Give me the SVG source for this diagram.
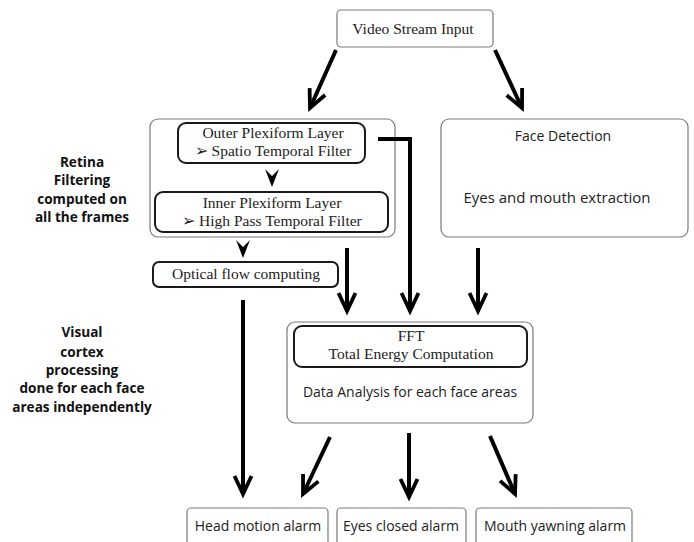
<svg xmlns="http://www.w3.org/2000/svg" width="694" height="542" viewBox="0 0 694 542">
<defs>
<style>
.thin{fill:#fff;stroke:#7a7a7a;stroke-width:1.2}
.thick{fill:#fff;stroke:#1a1a1a;stroke-width:2}
.serif{font-family:"Liberation Serif","Times New Roman",serif;font-size:15.5px;fill:#222;text-anchor:middle}
.sans{font-family:"Open Sans","Noto Sans",sans-serif;font-size:14px;fill:#222;text-anchor:middle}
.lab{font-family:"Open Sans","Noto Sans",sans-serif;font-size:13.6px;font-weight:bold;fill:#111;text-anchor:middle}
.ln{fill:none;stroke:#000;stroke-width:4}
.chev{fill:#000}
</style>
<marker id="ah" markerUnits="userSpaceOnUse" viewBox="-24 -13 28 26" refX="0" refY="0" markerWidth="28" markerHeight="26" orient="auto" overflow="visible">
<path d="M-18,-8.5 L0,0 L-18,8.5" fill="none" stroke="#000" stroke-width="3.8" stroke-linejoin="miter" stroke-miterlimit="10"/>
</marker>
</defs>
<rect width="694" height="542" fill="#fff"/>

<g id="labels">
<text class="lab" x="82" y="167">Retina</text>
<text class="lab" x="82" y="185">Filtering</text>
<text class="lab" x="82" y="204">computed on</text>
<text class="lab" x="82" y="222">all the frames</text>
<text class="lab" x="82" y="337">Visual</text>
<text class="lab" x="82" y="357">cortex</text>
<text class="lab" x="82" y="375">processing</text>
<text class="lab" x="82" y="393">done for each face</text>
<text class="lab" x="82" y="412">areas independently</text>
</g>

<g id="video-input">
<rect class="thin" x="337" y="10" width="156" height="37" rx="4"/>
<text class="serif" x="413" y="34">Video Stream Input</text>
</g>

<g id="retina-group">
<rect class="thin" x="150" y="119" width="245" height="118" rx="8"/>
</g>
<g id="outer-plexiform">
<rect class="thick" x="178" y="123" width="187" height="40" rx="8"/>
<text class="serif" x="273" y="138">Outer Plexiform Layer</text>
<text class="serif" x="273" y="156">➢ Spatio Temporal Filter</text>
</g>
<g id="inner-plexiform">
<rect class="thick" x="155" y="192" width="233" height="40" rx="8"/>
<text class="serif" x="272" y="208">Inner Plexiform Layer</text>
<text class="serif" x="272" y="226">➢ High Pass Temporal Filter</text>
</g>
<g id="optical-flow">
<rect class="thick" x="153" y="262" width="185" height="25" rx="6"/>
<text class="serif" x="246" y="279">Optical flow computing</text>
</g>

<g id="face-detection">
<rect class="thin" x="441" y="119" width="247" height="118" rx="8"/>
<text class="sans" x="563" y="141">Face Detection</text>
<text class="sans" x="557" y="203" style="font-size:15px">Eyes and mouth extraction</text>
</g>

<g id="data-analysis">
<rect class="thin" x="287" y="322" width="246" height="101" rx="8"/>
<text class="sans" x="410" y="397">Data  Analysis for each face areas</text>
</g>
<g id="fft">
<rect class="thick" x="294" y="326" width="233" height="41" rx="8"/>
<text class="serif" x="411" y="341">FFT</text>
<text class="serif" x="411" y="359">Total Energy Computation</text>
</g>

<g id="head-motion">
<rect class="thin" x="187" y="508" width="141" height="50" rx="4"/>
<text class="sans" x="258" y="531">Head motion alarm</text>
</g>
<g id="eyes-closed">
<rect class="thin" x="337" y="508" width="129" height="50" rx="4"/>
<text class="sans" x="401" y="531">Eyes closed alarm</text>
</g>
<g id="mouth-yawning">
<rect class="thin" x="476" y="508" width="156" height="50" rx="4"/>
<text class="sans" x="555" y="531">Mouth yawning alarm</text>
</g>

<g id="connectors">
<line class="ln" x1="336" y1="50" x2="310" y2="108" marker-end="url(#ah)"/>
<line class="ln" x1="495" y1="50" x2="522" y2="108" marker-end="url(#ah)"/>
<polygon class="chev" points="265,169 272,176 279,169 272,187"/>
<polygon class="chev" points="236,240 243,247 250,240 243,258"/>
<polyline class="ln" points="378,139 410,139 410,311" marker-end="url(#ah)" stroke-linejoin="miter"/>
<line class="ln" x1="347" y1="248" x2="347" y2="311" marker-end="url(#ah)"/>
<line class="ln" x1="478" y1="248" x2="478" y2="311" marker-end="url(#ah)"/>
<line class="ln" x1="243" y1="300" x2="243" y2="494" marker-end="url(#ah)"/>
<line class="ln" x1="330" y1="437" x2="303" y2="494" marker-end="url(#ah)"/>
<line class="ln" x1="409" y1="433" x2="409" y2="497" marker-end="url(#ah)"/>
<line class="ln" x1="490" y1="436" x2="515" y2="494" marker-end="url(#ah)"/>
</g>
</svg>
